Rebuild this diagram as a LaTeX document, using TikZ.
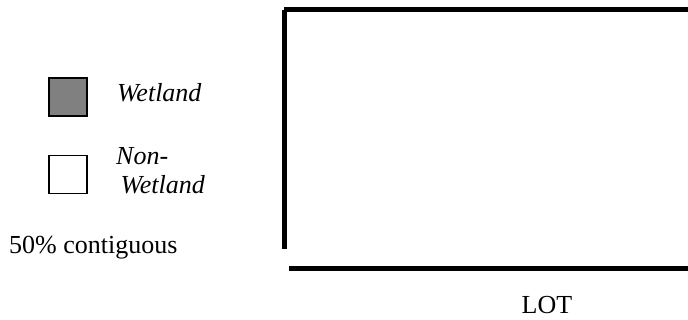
\documentclass[tikz,border=0pt]{standalone}
\usepackage{fontspec}
\setmainfont{Liberation Serif}
\usetikzlibrary{positioning}

\tikzset{
  legendbox/.style={draw,line width=1.8pt,minimum size=38pt,inner sep=0pt},
  lotline/.style={line width=5pt,line cap=butt}
}

\begin{document}
\begin{tikzpicture}[x=1pt,y=1pt,
  font=\fontsize{26}{29}\selectfont,
  every node/.style={inner sep=0pt}]
\path[use as bounding box] (0,-320) rectangle (688,0);

% legend
\node[legendbox,fill=black!50] (wetbox) at (68,-97) {};
\node[anchor=base west,font=\fontsize{26}{29}\selectfont\itshape]
  (wetlabel) at (117,-101.5) {Wetland};
\node[legendbox,fill=white] (nonbox) at (68,-174.5) {};
\node[anchor=north west,align=left,font=\fontsize{26}{29}\selectfont\itshape]
  (nonlabel) at (116,-147) {Non-\\ \,Wetland};
\node[anchor=base west] (contig) at (9,-254) {50\% contiguous};

% lot outline
\coordinate (lotTL) at (284,-9.7);
\coordinate (lotTR) at (688,-9.7);
\coordinate (lotBL) at (284,-249);
\coordinate (lotBaseL) at (289,-268.3);
\coordinate (lotBaseR) at (688,-268.3);
\draw[lotline] (lotTL)--(lotTR);
\draw[lotline] ([yshift=-.3pt]lotTL)--(lotBL);
\draw[lotline] (lotBaseL)--(lotBaseR);
\node[anchor=base] (lot) at (547,-314) {LOT};
\end{tikzpicture}
\end{document}
